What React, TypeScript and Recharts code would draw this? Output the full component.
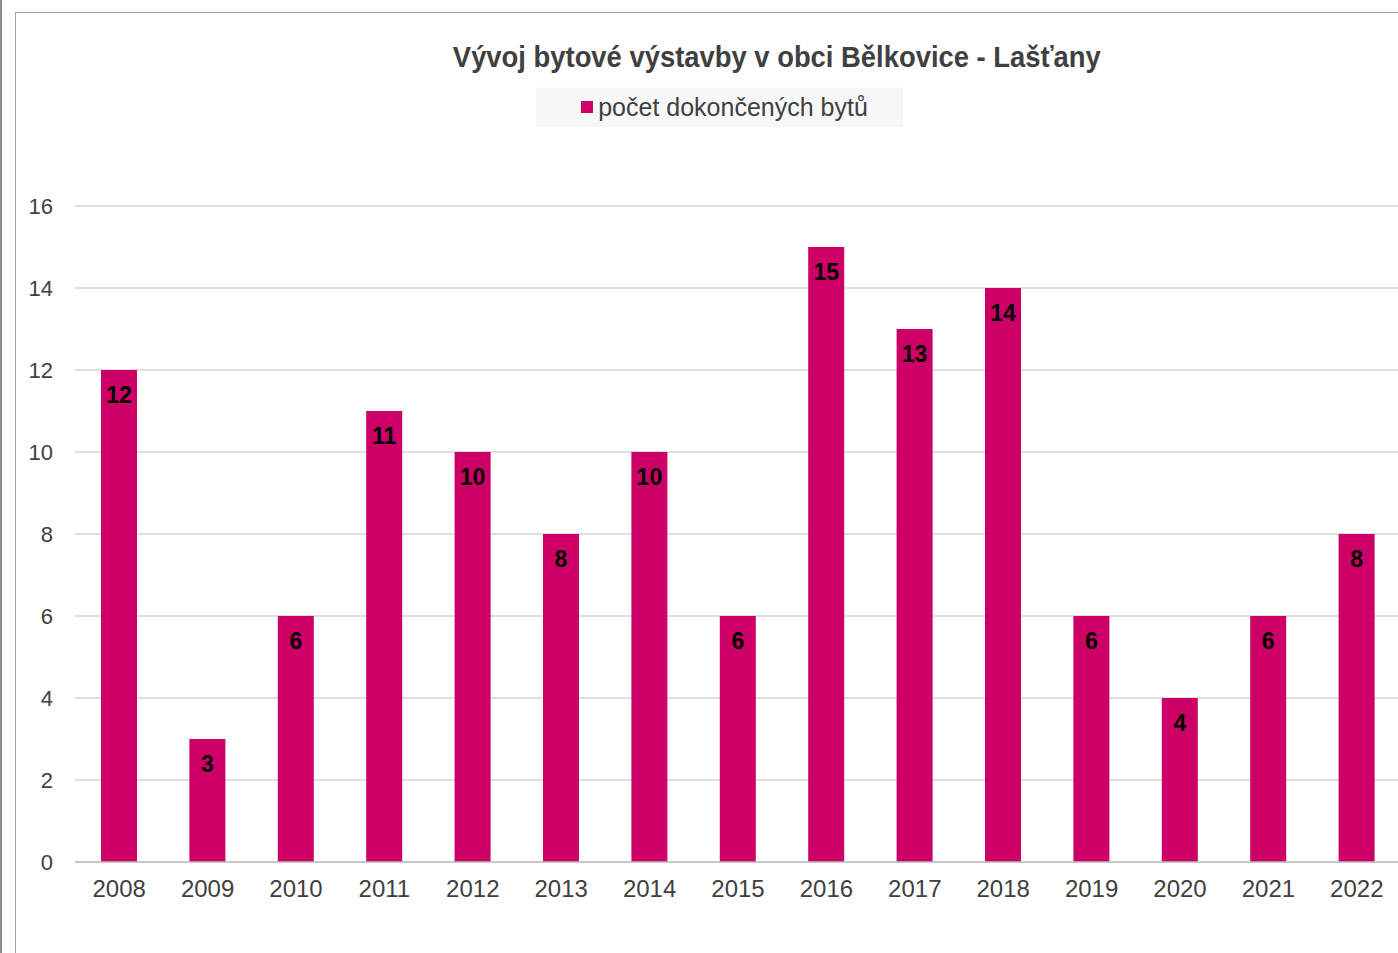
import React from 'react'
import { BarChart, Bar, XAxis, YAxis, CartesianGrid, Legend, LabelList } from 'recharts'

const years = ['2008', '2009', '2010', '2011', '2012', '2013', '2014', '2015', '2016', '2017', '2018', '2019', '2020', '2021', '2022']
const completedFlats = [12, 3, 6, 11, 10, 8, 10, 6, 15, 13, 14, 6, 4, 6, 8]
const yTicks = [0, 2, 4, 6, 8, 10, 12, 14, 16]

const seriesName = 'počet dokončených bytů'
const barColor = '#cc0066'
const textColor = '#404040'

const data = years.map((year, i) => ({ year, value: completedFlats[i] }))

function LegendBox() {
  return (
    <div
      style={{
        background: '#f7f7f7',
        width: 367,
        height: 40,
        boxSizing: 'border-box',
        paddingLeft: 10,
        display: 'flex',
        alignItems: 'center',
        justifyContent: 'center',
        fontFamily: '"Liberation Sans", Arial, sans-serif',
        fontSize: 25,
        color: textColor,
      }}
    >
      <span style={{ display: 'inline-block', width: 12, height: 12, background: barColor, marginRight: 5 }} />
      <span>{seriesName}</span>
    </div>
  )
}

export default function App() {
  return (
    <div
      style={{
        position: 'fixed',
        left: 0,
        top: 0,
        width: 1398,
        height: 953,
        overflow: 'hidden',
        background: '#fff',
      }}
    >
      <div style={{ position: 'absolute', left: 0, top: 0, width: 2, height: 953, background: '#8c8c8c' }} />
      <div
        style={{
          position: 'absolute',
          left: 15,
          top: 12,
          width: 1500,
          height: 1000,
          borderLeft: '1.5px solid #a6a6a6',
          borderTop: '1.5px solid #a6a6a6',
        }}
      />
      <div
        style={{
          position: 'absolute',
          left: 453,
          top: 40,
          width: 647,
          display: 'flex',
          justifyContent: 'center',
        }}
      >
        <div
          style={{
            fontFamily: '"Liberation Sans", Arial, sans-serif',
            fontWeight: 'bold',
            fontSize: 30,
            lineHeight: '34px',
            color: textColor,
            whiteSpace: 'nowrap',
            transform: 'scaleX(0.913)',
          }}
        >
          Vývoj bytové výstavby v obci Bělkovice - Lašťany
        </div>
      </div>
      <div style={{ position: 'absolute', left: 0, top: 0 }}>
        <BarChart
          width={1402}
          height={953}
          data={data}
          margin={{ top: 166, right: 1, bottom: 0, left: 0 }}
          style={{ fontFamily: '"Liberation Sans", Arial, sans-serif' }}
        >
          <CartesianGrid vertical={false} stroke="#d4d4d4" strokeWidth={1.5} />
          <XAxis
            dataKey="year"
            height={91}
            tickLine={false}
            axisLine={{ stroke: '#bfbfbf', strokeWidth: 1.5 }}
            tickMargin={12}
            tick={{ fill: textColor, fontSize: 24 }}
            interval={0}
          />
          <YAxis
            width={75}
            domain={[0, 16]}
            ticks={yTicks}
            tickLine={false}
            axisLine={false}
            tickMargin={16}
            tick={{ fill: textColor, fontSize: 22 }}
          />
          <Legend
            verticalAlign="top"
            content={() => <LegendBox />}
            wrapperStyle={{ position: 'absolute', top: 87, left: 536, width: 367 }}
          />
          <Bar dataKey="value" name={seriesName} fill={barColor} barSize={36} isAnimationActive={false}>
            <LabelList
              dataKey="value"
              position="insideTop"
              offset={17}
              fill="#000"
              fontSize={23}
              fontWeight="bold"
            />
          </Bar>
        </BarChart>
      </div>
    </div>
  )
}
